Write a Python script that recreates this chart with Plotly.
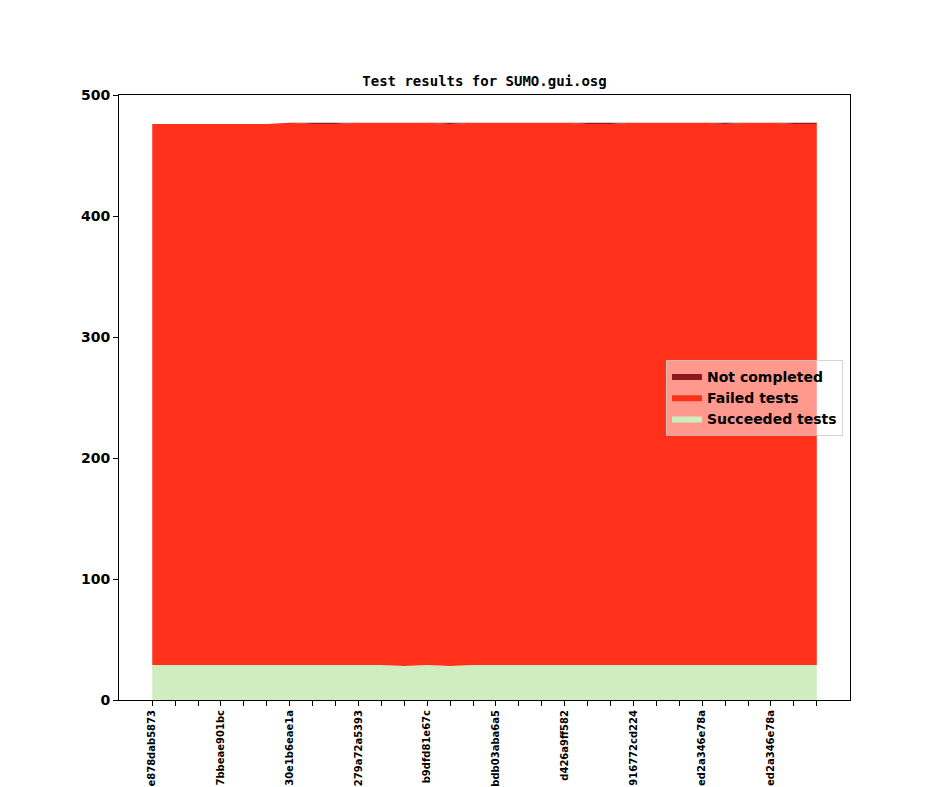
import plotly.graph_objects as go

# 30 commits; only every third tick carries a (clipped) hash label
commit_index = list(range(30))
tick_positions = [0, 3, 6, 9, 12, 15, 18, 21, 24, 27]
tick_labels = ["e878dab5873", "7bbeae901bc", "30e1b6eae1a", "279a72a5393",
               "b9dfd81e67c", "bdb03aba6a5", "d426a9ff582", "916772cd224",
               "ed2a346e78a", "ed2a346e78a"]

succeeded = [29, 29, 29, 29, 29, 29, 29, 29, 29, 29,
             29, 28, 29, 28, 29, 29, 29, 29, 29, 29,
             29, 29, 29, 29, 29, 29, 29, 29, 29, 29]
failed = [447, 447, 447, 447, 447, 447, 448, 447, 447, 448,
          448, 449, 448, 448, 448, 448, 448, 448, 448, 447,
          447, 448, 448, 448, 448, 447, 448, 448, 447, 447]
not_completed = [0, 0, 0, 0, 0, 0, 0, 1, 1, 0,
                 0, 0, 0, 1, 0, 0, 0, 0, 0, 1,
                 1, 0, 0, 0, 0, 1, 0, 0, 1, 1]

C_NC = "#8b1a1e"
C_FAIL = "#ff311a"
C_OK = "#cfedbf"

label_map = dict(zip(tick_positions, tick_labels))
ticktext = [label_map.get(i, "") for i in commit_index]

fig = go.Figure()
for name, vals, col in [("Succeeded tests", succeeded, C_OK),
                        ("Failed tests", failed, C_FAIL),
                        ("Not completed", not_completed, C_NC)]:
    fig.add_trace(go.Scatter(
        x=commit_index, y=vals, name=name, mode="lines",
        stackgroup="one", line=dict(width=0, color=col),
        fillcolor=col, hoverinfo="x+y+name"))

bold = dict(family="DejaVu Sans", color="black", weight="bold")

# the page places the figure at an 8px body offset
W, H = 936, 779
fig.update_layout(
    width=W, height=H,
    paper_bgcolor="white", plot_bgcolor="white",
    margin=dict(l=111, r=94, t=87, b=87, autoexpand=False),
    title=dict(text="Test results for SUMO.gui.osg", x=(484.5 - 8) / W, xanchor="center",
               y=1 - (81 - 8) / H, yanchor="middle",
               font=dict(family="DejaVu Sans Mono", size=14, color="black", weight="bold")),
    showlegend=True,
    legend=dict(x=0.9904, xanchor="right", y=0.5, yanchor="middle",
                traceorder="reversed",
                bgcolor="rgba(255,255,255,0.5)", bordercolor="rgba(200,200,200,0.8)",
                borderwidth=1, font=dict(size=14, **bold),
                itemwidth=30, tracegroupgap=0),
    xaxis=dict(range=[-1.45, 30.45], tickmode="array", tickvals=commit_index,
               ticktext=ticktext, tickangle=-90, ticks="outside", ticklen=5,
               tickwidth=1, tickcolor="black", showgrid=False, zeroline=False,
               showline=True, linecolor="black", linewidth=1, mirror=True,
               tickfont=dict(size=10, **bold)),
    yaxis=dict(range=[0, 500], tickvals=[0, 100, 200, 300, 400, 500],
               ticks="outside", ticklen=5, tickwidth=1, tickcolor="black",
               showgrid=False, zeroline=False, showline=True, linecolor="black",
               linewidth=1, mirror=True, tickfont=dict(size=14, **bold)),
)

fig.write_html("out.html")
